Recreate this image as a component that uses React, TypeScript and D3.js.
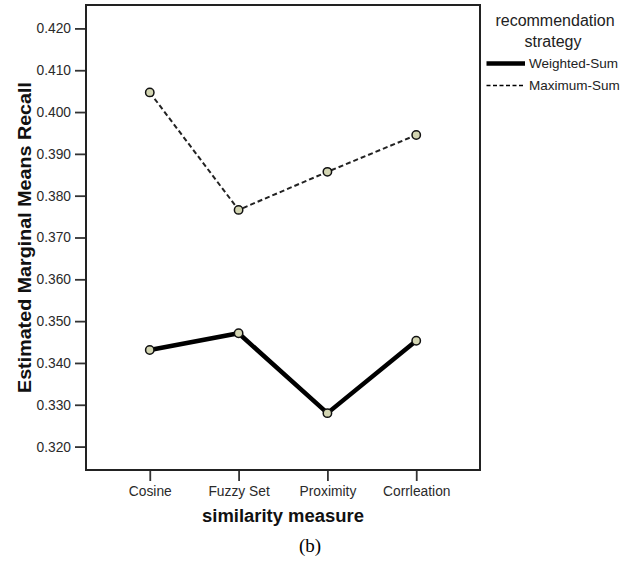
import React, { useRef, useEffect } from 'react';
import * as d3 from 'd3';

// similarity measures on the x axis
const measures = ['Cosine', 'Fuzzy Set', 'Proximity', 'Corrleation'];
// estimated marginal means per strategy
const weightedSum = [0.3431, 0.3471, 0.3280, 0.3453];
const maximumSum = [0.4047, 0.3766, 0.3857, 0.3945];
const yTicks = [0.32, 0.33, 0.34, 0.35, 0.36, 0.37, 0.38, 0.39, 0.40, 0.41, 0.42];

const App = () => {
  const svgRef = useRef<SVGSVGElement | null>(null);

  useEffect(() => {
    const svg = d3.select(svgRef.current);
    svg.selectAll('*').remove();

    const left = 86, right = 480, top = 5, bottom = 470;
    const font = 'Arial, "Liberation Sans", sans-serif';

    const x = d3.scalePoint<string>().domain(measures).range([left, right]).padding(0.718);
    const y = d3.scaleLinear().domain([0.3144, 0.4256]).range([bottom, top]);

    svg.append('rect').attr('width', 638).attr('height', 564).attr('fill', '#fff');

    // y axis
    const yAxis = svg.append('g')
      .attr('transform', `translate(${left},0)`)
      .call(d3.axisLeft(y).tickValues(yTicks).tickFormat(d3.format('.3f')).tickSize(11).tickPadding(4));
    yAxis.select('.domain').remove();
    yAxis.selectAll('line').attr('stroke', '#333').attr('stroke-width', 1.8);
    yAxis.selectAll('text').attr('fill', '#2a2a2a').style('font-family', font).style('font-size', '13.8px');

    // x axis
    const xAxis = svg.append('g')
      .attr('transform', `translate(0,${bottom})`)
      .call(d3.axisBottom(x).tickSize(11).tickPadding(5));
    xAxis.select('.domain').remove();
    xAxis.selectAll('line').attr('stroke', '#333').attr('stroke-width', 1.8);
    xAxis.selectAll('text').attr('fill', '#2a2a2a').style('font-family', font).style('font-size', '13.8px');

    // frame
    svg.append('rect')
      .attr('x', left).attr('y', top)
      .attr('width', right - left).attr('height', bottom - top)
      .attr('fill', 'none').attr('stroke', '#222').attr('stroke-width', 2);

    const line = d3.line<number>()
      .x((_, i) => x(measures[i]) as number)
      .y(d => y(d));

    svg.append('path').datum(weightedSum)
      .attr('d', line).attr('fill', 'none')
      .attr('stroke', '#000').attr('stroke-width', 4.5);

    svg.append('path').datum(maximumSum)
      .attr('d', line).attr('fill', 'none')
      .attr('stroke', '#222').attr('stroke-width', 2)
      .attr('stroke-dasharray', '5,3');

    [weightedSum, maximumSum].forEach(series => {
      svg.append('g').selectAll('circle')
        .data(series)
        .enter()
        .append('circle')
        .attr('cx', (_, i) => x(measures[i]) as number)
        .attr('cy', d => y(d))
        .attr('r', 4.2)
        .attr('fill', '#d3d5b2')
        .attr('stroke', '#111')
        .attr('stroke-width', 1.5);
    });

    // axis titles
    svg.append('text')
      .attr('transform', `translate(31,${(82 + 393) / 2}) rotate(-90)`)
      .attr('text-anchor', 'middle')
      .attr('textLength', 311)
      .attr('lengthAdjust', 'spacingAndGlyphs')
      .style('font-family', font).style('font-weight', 'bold').style('font-size', '18px')
      .attr('fill', '#111')
      .text('Estimated Marginal Means Recall');

    svg.append('text')
      .attr('x', (left + right) / 2).attr('y', 521.7)
      .attr('text-anchor', 'middle')
      .attr('textLength', 162)
      .attr('lengthAdjust', 'spacingAndGlyphs')
      .style('font-family', font).style('font-weight', 'bold').style('font-size', '17.5px')
      .attr('fill', '#111')
      .text('similarity measure');

    svg.append('text')
      .attr('x', 310).attr('y', 551.5)
      .attr('text-anchor', 'middle')
      .style('font-family', '"Liberation Serif", "Times New Roman", serif').style('font-size', '19px')
      .attr('fill', '#000')
      .text('(b)');

    // legend
    const legend = svg.append('g');
    legend.append('text')
      .attr('x', 555).attr('y', 26)
      .attr('text-anchor', 'middle')
      .style('font-family', font).style('font-size', '16px').attr('fill', '#222')
      .text('recommendation');
    legend.append('text')
      .attr('x', 553).attr('y', 46.5)
      .attr('text-anchor', 'middle')
      .style('font-family', font).style('font-size', '16px').attr('fill', '#222')
      .text('strategy');

    const items = [
      { label: 'Weighted-Sum', width: 4.5, dash: null as string | null, y: 63.5 },
      { label: 'Maximum-Sum', width: 1.6, dash: '4,2.5', y: 85.5 },
    ];
    items.forEach(it => {
      legend.append('line')
        .attr('x1', 486.5).attr('x2', 525).attr('y1', it.y).attr('y2', it.y)
        .attr('stroke', '#000').attr('stroke-width', it.width)
        .attr('stroke-dasharray', it.dash);
      legend.append('text')
        .attr('x', 529).attr('y', it.y + 4.5)
        .style('font-family', font).style('font-size', '13.5px').attr('fill', '#222')
        .text(it.label);
    });
  }, []);

  return (
    <svg ref={svgRef} width={638} height={564}
      style={{ position: 'absolute', left: 0, top: 0 }}></svg>
  );
};

export default App;
